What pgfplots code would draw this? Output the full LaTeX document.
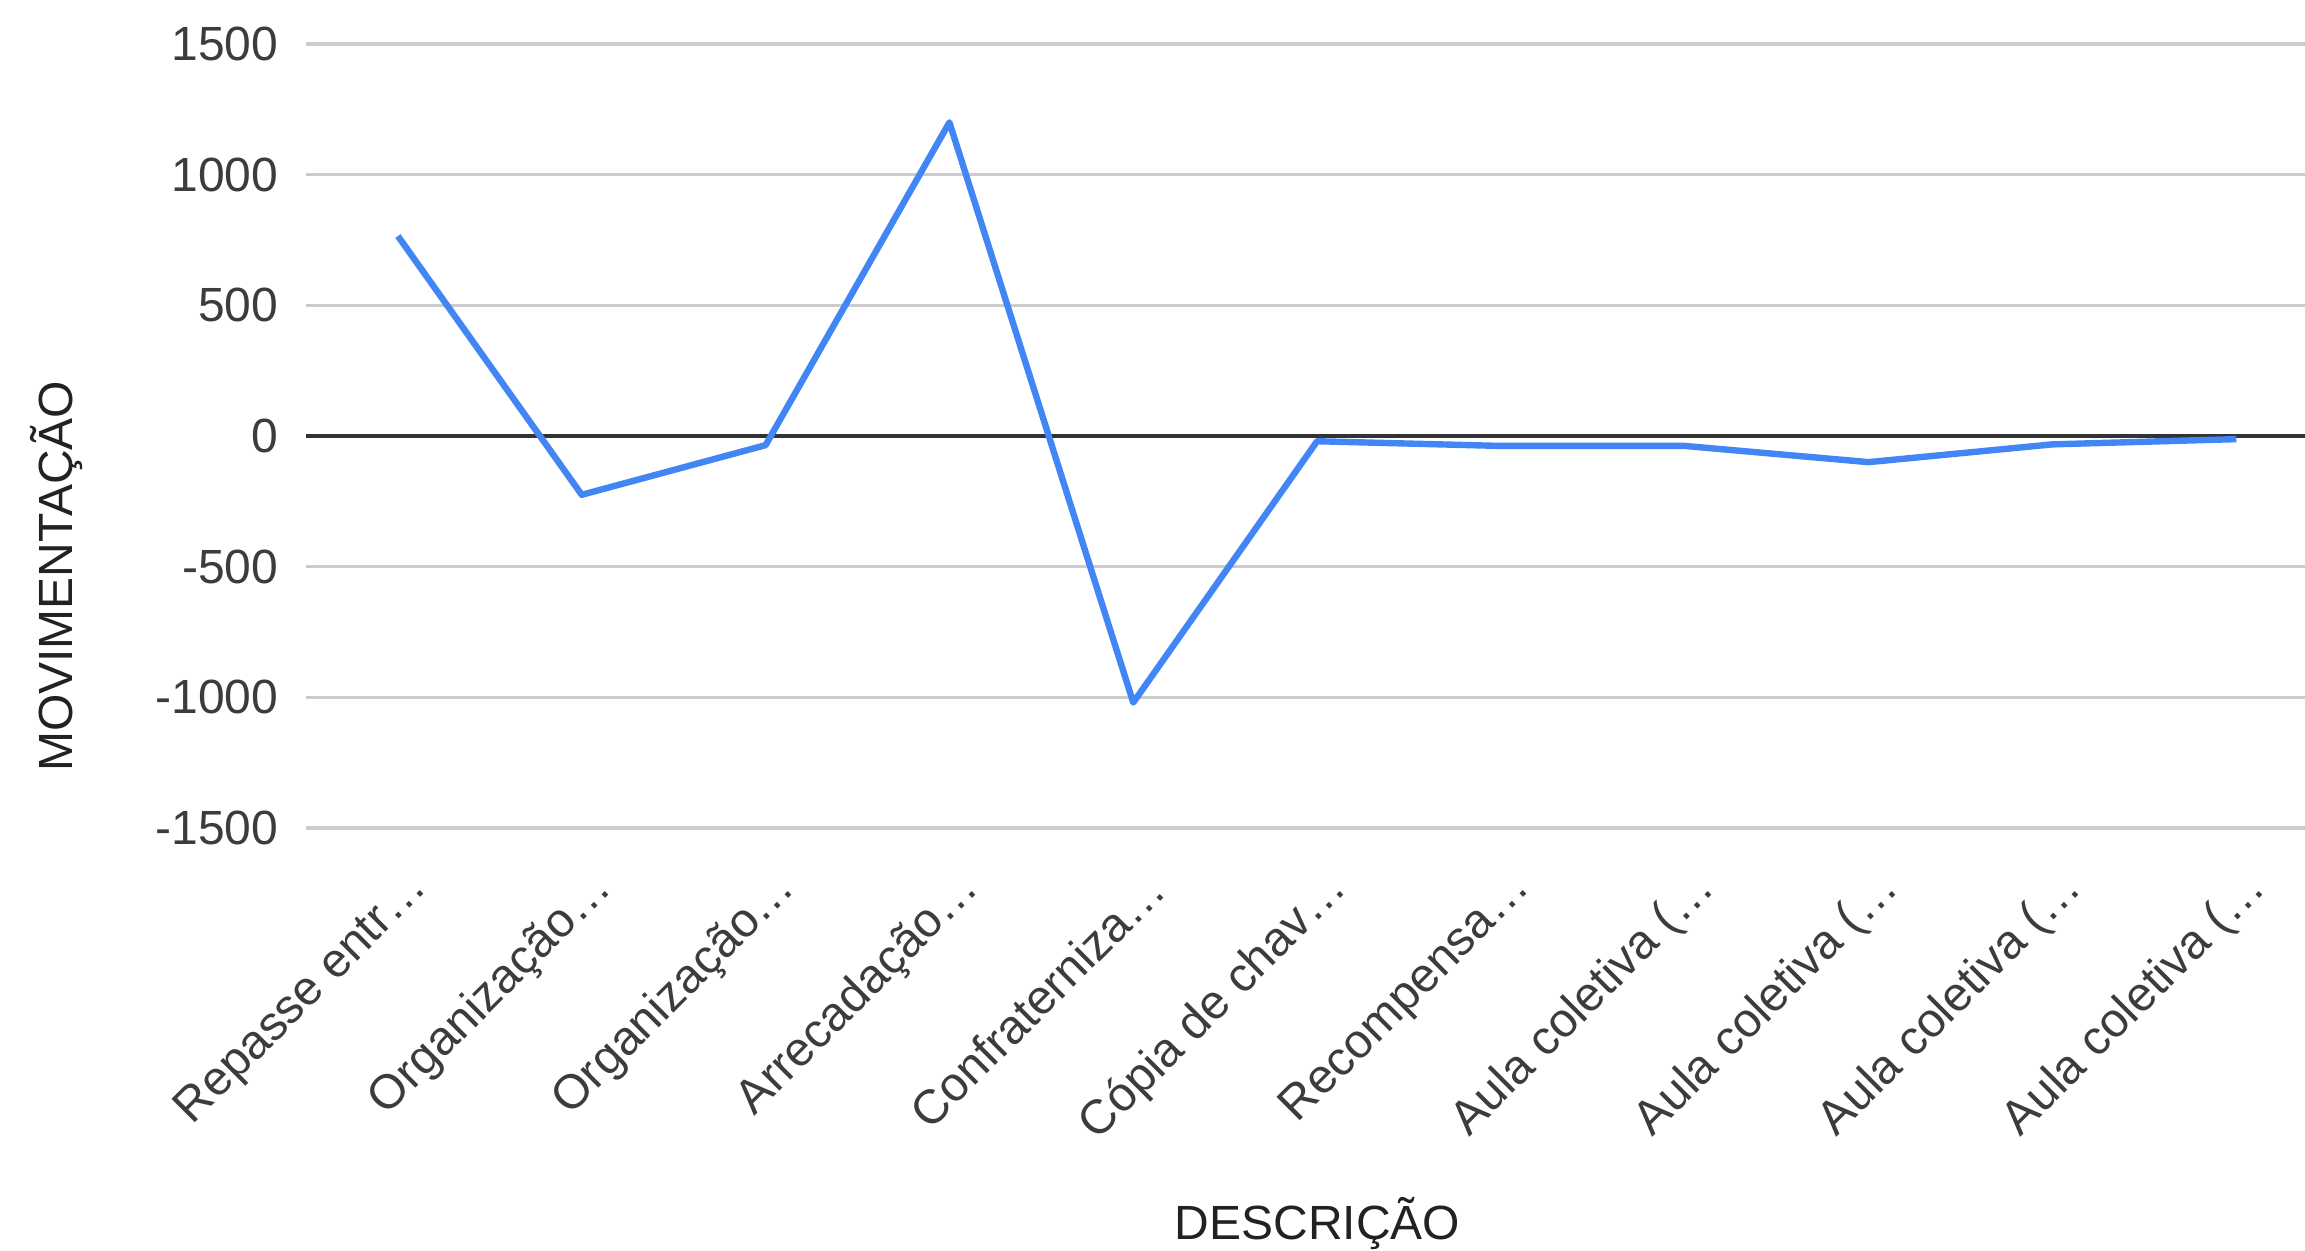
\documentclass[border=0pt]{standalone}
\usepackage{pgfplots}
\pgfplotsset{compat=1.18}
\usepackage{fontspec}
\setmainfont{Liberation Sans}
\definecolor{gblue}{HTML}{4285F4}
\definecolor{gridc}{HTML}{CCCCCC}
\definecolor{zeroc}{HTML}{333333}
\definecolor{tickc}{HTML}{3C3C3C}
\definecolor{titlec}{HTML}{222222}
\begin{document}
\begin{tikzpicture}
\useasboundingbox (-76.5bp,-105.75bp) rectangle (499.75bp,207bp);
\begin{axis}[
  at={(0,0)}, anchor=south west,
  scale only axis, width=499.75bp, height=196bp,
  xmin=-0.5, xmax=10.374, ymin=-1500, ymax=1500,
  axis line style={draw=none},
  tick style={draw=none},
  ytick={-1500,-1000,-500,0,500,1000,1500},
  ymajorgrids,
  grid style={color=gridc, line width=0.8bp},
  xtick={0,1,2,3,4,5,6,7,8,9,10},
  xticklabels={Repasse entr…, Organização…, Organização…, Arrecadação…, Confraterniza…, Cópia de chav…, Recompensa…, Aula coletiva (…, Aula coletiva (…, Aula coletiva (…, Aula coletiva (…},
  /pgf/number format/assume math mode=true,
  /pgf/number format/1000 sep={},
  yticklabel style={font=\fontsize{12bp}{14bp}\selectfont, color=tickc, anchor=east, inner sep=0pt, xshift=-6.75bp},
  xticklabel style={font=\fontsize{12bp}{14bp}\selectfont, color=tickc, xshift=5.8bp, yshift=-13.2bp, rotate=45, anchor=east, inner sep=0pt},
  xlabel={DESCRIÇÃO},
  ylabel={MOVIMENTAÇÃO},
  xlabel style={font=\fontsize{12bp}{14bp}\selectfont, color=titlec, at={(axis description cs:0.506,-0.504)}, anchor=center},
  ylabel style={font=\fontsize{12bp}{14bp}\selectfont, color=titlec, at={(axis description cs:-0.125,0.321)}, anchor=center},
  clip=false,
]
\addplot[color=zeroc, line width=1bp, forget plot] coordinates {(-0.5,0) (10.374,0)};
\addplot[color=gblue, line width=1.6bp, line join=round, mark=none] coordinates {
 (0,765) (1,-225) (2,-35) (3,1200) (4,-1020) (5,-20) (6,-38) (7,-38) (8,-100) (9,-32) (10,-12)
};
\end{axis}
\end{tikzpicture}
\end{document}
